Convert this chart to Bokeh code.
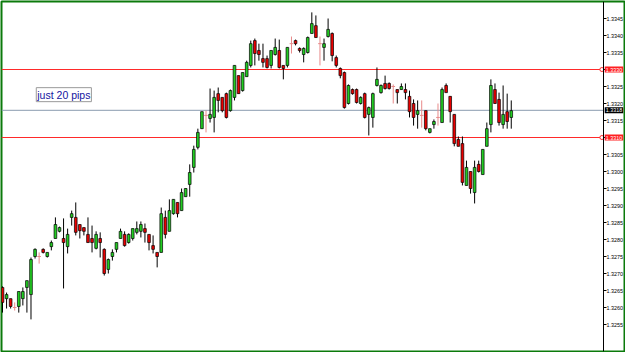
import numpy as np
from bokeh.plotting import figure
from bokeh.models import Range1d, FixedTicker, Label, NumeralTickFormatter
from bokeh.embed import file_html
from bokeh.resources import INLINE

# ---- data (candles) ----
OPEN = [
    1.32659, 1.32626, 1.32626, 1.32600, 1.32603, 1.32626, 1.32659, 1.32638, 1.32750, 1.32750,
    1.32771, 1.32750, 1.32779, 1.32803, 1.32824, 1.32803, 1.32779, 1.32865, 1.32865, 1.32844,
    1.32835, 1.32815, 1.32803, 1.32774, 1.32803, 1.32771, 1.32712, 1.32750, 1.32771, 1.32803,
    1.32815, 1.32791, 1.32803, 1.32821, 1.32824, 1.32832, 1.32815, 1.32782, 1.32762, 1.32762,
    1.32865, 1.32824, 1.32876, 1.32909, 1.32885, 1.32926, 1.32962, 1.33012, 1.33071, 1.33126,
    1.33165, 1.33156, 1.33159, 1.33229, 1.33218, 1.33229, 1.33179, 1.33218, 1.33282, 1.33238,
    1.33279, 1.33312, 1.33385, 1.33356, 1.33332, 1.33332, 1.33312, 1.33344, 1.33356, 1.33312,
    1.33312, 1.33376, 1.33385, 1.33362, 1.33344, 1.33350, 1.33406, 1.33429, 1.33376, 1.33365,
    1.33397, 1.33406, 1.33335, 1.33303, 1.33291, 1.33200, 1.33241, 1.33241, 1.33200, 1.33229,
    1.33168, 1.33159, 1.33253, 1.33232, 1.33259, 1.33259, 1.33250, 1.33241, 1.33241, 1.33241,
    1.33221, 1.33200, 1.33168, 1.33165, 1.33179, 1.33115, 1.33138, 1.33159, 1.33144, 1.33253,
    1.33221, 1.33168, 1.33094, 1.33082, 1.32959, 1.33000, 1.32938, 1.33021, 1.32991, 1.33074,
    1.33138, 1.33241, 1.33212, 1.33138, 1.33176, 1.33159]
HIGH = [
    1.32662, 1.32644, 1.32626, 1.32615, 1.32647, 1.32659, 1.32679, 1.32747, 1.32774, 1.32762,
    1.32774, 1.32762, 1.32797, 1.32865, 1.32838, 1.32862, 1.32832, 1.32885, 1.32909, 1.32844,
    1.32835, 1.32865, 1.32841, 1.32824, 1.32821, 1.32774, 1.32744, 1.32771, 1.32791, 1.32832,
    1.32824, 1.32818, 1.32832, 1.32853, 1.32853, 1.32847, 1.32815, 1.32812, 1.32762, 1.32894,
    1.32885, 1.32918, 1.32918, 1.32909, 1.32950, 1.32950, 1.33021, 1.33076, 1.33126, 1.33176,
    1.33179, 1.33244, 1.33238, 1.33247, 1.33218, 1.33232, 1.33241, 1.33312, 1.33282, 1.33291,
    1.33326, 1.33385, 1.33391, 1.33376, 1.33376, 1.33341, 1.33356, 1.33391, 1.33388, 1.33312,
    1.33365, 1.33397, 1.33388, 1.33365, 1.33365, 1.33397, 1.33468, 1.33459, 1.33397, 1.33391,
    1.33450, 1.33409, 1.33341, 1.33306, 1.33294, 1.33256, 1.33244, 1.33244, 1.33221, 1.33232,
    1.33191, 1.33232, 1.33306, 1.33256, 1.33282, 1.33262, 1.33256, 1.33241, 1.33259, 1.33259,
    1.33238, 1.33212, 1.33209, 1.33209, 1.33179, 1.33126, 1.33153, 1.33200, 1.33247, 1.33259,
    1.33221, 1.33168, 1.33103, 1.33103, 1.33032, 1.33000, 1.33032, 1.33032, 1.33065, 1.33144,
    1.33271, 1.33259, 1.33232, 1.33253, 1.33229, 1.33209]
LOW = [
    1.32585, 1.32597, 1.32597, 1.32591, 1.32585, 1.32606, 1.32585, 1.32565, 1.32744, 1.32729,
    1.32759, 1.32747, 1.32768, 1.32803, 1.32821, 1.32656, 1.32759, 1.32841, 1.32812, 1.32803,
    1.32812, 1.32791, 1.32762, 1.32771, 1.32747, 1.32694, 1.32700, 1.32738, 1.32762, 1.32803,
    1.32779, 1.32788, 1.32797, 1.32815, 1.32806, 1.32791, 1.32768, 1.32759, 1.32718, 1.32762,
    1.32803, 1.32824, 1.32873, 1.32865, 1.32885, 1.32926, 1.32926, 1.32997, 1.33065, 1.33126,
    1.33115, 1.33144, 1.33115, 1.33174, 1.33174, 1.33156, 1.33176, 1.33209, 1.33229, 1.33235,
    1.33279, 1.33306, 1.33312, 1.33326, 1.33306, 1.33303, 1.33303, 1.33341, 1.33303, 1.33271,
    1.33306, 1.33347, 1.33371, 1.33350, 1.33321, 1.33347, 1.33406, 1.33394, 1.33312, 1.33326,
    1.33394, 1.33324, 1.33306, 1.33274, 1.33185, 1.33197, 1.33226, 1.33200, 1.33197, 1.33156,
    1.33106, 1.33129, 1.33250, 1.33229, 1.33241, 1.33241, 1.33200, 1.33200, 1.33241, 1.33212,
    1.33159, 1.33135, 1.33126, 1.33129, 1.33121, 1.33112, 1.33126, 1.33135, 1.33144, 1.33232,
    1.33144, 1.33074, 1.33074, 1.32959, 1.32959, 1.32935, 1.32906, 1.32997, 1.32991, 1.33074,
    1.33115, 1.33200, 1.33135, 1.33126, 1.33126, 1.33126]
CLOSE = [
    1.32615, 1.32638, 1.32603, 1.32600, 1.32647, 1.32647, 1.32679, 1.32741, 1.32771, 1.32750,
    1.32762, 1.32762, 1.32791, 1.32844, 1.32835, 1.32791, 1.32815, 1.32876, 1.32821, 1.32826,
    1.32824, 1.32791, 1.32791, 1.32815, 1.32791, 1.32700, 1.32741, 1.32762, 1.32791, 1.32824,
    1.32782, 1.32815, 1.32832, 1.32832, 1.32844, 1.32821, 1.32791, 1.32771, 1.32750, 1.32876,
    1.32815, 1.32885, 1.32918, 1.32876, 1.32938, 1.32950, 1.32997, 1.33065, 1.33115, 1.33176,
    1.33165, 1.33168, 1.33218, 1.33209, 1.33179, 1.33159, 1.33238, 1.33312, 1.33229, 1.33291,
    1.33321, 1.33376, 1.33347, 1.33344, 1.33321, 1.33306, 1.33356, 1.33365, 1.33306, 1.33303,
    1.33365, 1.33376, 1.33376, 1.33356, 1.33362, 1.33394, 1.33435, 1.33394, 1.33376, 1.33376,
    1.33418, 1.33341, 1.33312, 1.33282, 1.33188, 1.33253, 1.33229, 1.33203, 1.33218, 1.33159,
    1.33188, 1.33229, 1.33271, 1.33253, 1.33244, 1.33244, 1.33250, 1.33232, 1.33250, 1.33232,
    1.33176, 1.33159, 1.33179, 1.33165, 1.33126, 1.33126, 1.33147, 1.33159, 1.33241, 1.33232,
    1.33176, 1.33082, 1.33074, 1.32968, 1.33012, 1.32950, 1.33012, 1.33000, 1.33065, 1.33126,
    1.33253, 1.33200, 1.33144, 1.33168, 1.33147, 1.33179]

PRICE_TICKS = [1.3255, 1.3260, 1.3265, 1.3270, 1.3275, 1.3280, 1.3285, 1.3290, 1.3295,
               1.3300, 1.3305, 1.3310, 1.3315, 1.3320, 1.3325, 1.3330, 1.3335, 1.3340, 1.3345]
LEVEL_HIGH = 1.3330
LEVEL_LOW = 1.3310
BID = 1.3318
NOTE = "just 20 pips"

n = len(OPEN)
o = np.array(OPEN); h = np.array(HIGH); l = np.array(LOW); c = np.array(CLOSE)
x = np.arange(n)
doji = o == c
bull = c > o
bear = c < o

PX = 4.07                    # pixels per bar
FRAME_W, FRAME_H = 623, 350
X0 = -1.0 / PX
X1 = X0 + FRAME_W / PX
XA = X0 + 602 / PX           # where the price scale sits
PIP_PX = 3.4
Y1 = LEVEL_HIGH + 68 / PIP_PX * 0.0001
Y0 = Y1 - FRAME_H / PIP_PX * 0.0001

p = figure(width=625, height=352, output_backend="svg", toolbar_location=None,
           x_range=Range1d(X0, X1), y_range=Range1d(Y0, Y1),
           x_axis_location=None, y_axis_location="right",
           min_border_left=1, min_border_top=1, min_border_bottom=1, min_border_right=1,
           background_fill_color="white", border_fill_color="white")
p.outline_line_color = "#0b7a0b"
p.outline_line_width = 2
p.grid.visible = False

ax = p.yaxis[0]
ax.fixed_location = XA
ax.ticker = FixedTicker(ticks=PRICE_TICKS)
ax.formatter = NumeralTickFormatter(format="0.0000")
ax.major_label_text_font = "Liberation Sans"
ax.major_label_text_font_size = "5.4px"
ax.major_label_text_color = "black"
ax.major_tick_out = 3
ax.major_tick_in = 0
ax.minor_tick_out = 0
ax.minor_tick_in = 0
ax.major_label_standoff = 0
ax.axis_line_color = "black"
ax.major_tick_line_color = "black"

# price lines (stop at the price scale)
p.segment(x0=[X0, X0], x1=[XA - 0.5, XA - 0.5], y0=[LEVEL_HIGH, LEVEL_LOW],
          y1=[LEVEL_HIGH, LEVEL_LOW], line_color="#ff2a2a", line_width=1)
p.segment(x0=[X0], x1=[XA], y0=[BID], y1=[BID], line_color="#8a9bb0", line_width=1)

# wicks (non-doji)
nd = ~doji
p.segment(x0=x[nd], y0=l[nd], x1=x[nd], y1=h[nd], line_color="black", line_width=1)
# bodies
W = 0.66
p.vbar(x=x[bull], width=W, top=c[bull], bottom=o[bull], fill_color="#22cc22",
       line_color="black", line_width=0.7)
p.vbar(x=x[bear], width=W, top=o[bear], bottom=c[bear], fill_color="#e80000",
       line_color="black", line_width=0.7)
# dojis
p.segment(x0=x[doji], y0=l[doji], x1=x[doji], y1=h[doji], line_color="#e88a8a", line_width=1)
p.segment(x0=x[doji] - 0.45, y0=o[doji], x1=x[doji] + 0.45, y1=o[doji],
          line_color="#e88a8a", line_width=1)

# end markers of the levels
p.scatter(x=[XA - 0.4, XA - 0.4], y=[LEVEL_HIGH, LEVEL_LOW], marker="circle", size=4,
          fill_color="white", line_color="#ff2a2a")

# boxes on the price scale
for lev, bg in [(LEVEL_HIGH, "#ff2020"), (LEVEL_LOW, "#ff2020"), (BID, "black")]:
    p.add_layout(Label(x=XA + 0.3, y=lev, text=f"{lev:.4f}", text_font="Liberation Sans",
                       text_font_size="5.4px", text_color="white", text_baseline="middle",
                       text_align="left", background_fill_color=bg, padding=1))

# note box
p.add_layout(Label(x=8.3, y=1.33226, text=NOTE, text_font="Liberation Sans",
                   text_font_size="10.5px", text_color="#1414a0", text_baseline="middle",
                   text_align="left", background_fill_color="white",
                   border_line_color="#9a9a9a", border_line_width=1, padding=1))

open("out.html", "w").write(file_html(p, INLINE))
